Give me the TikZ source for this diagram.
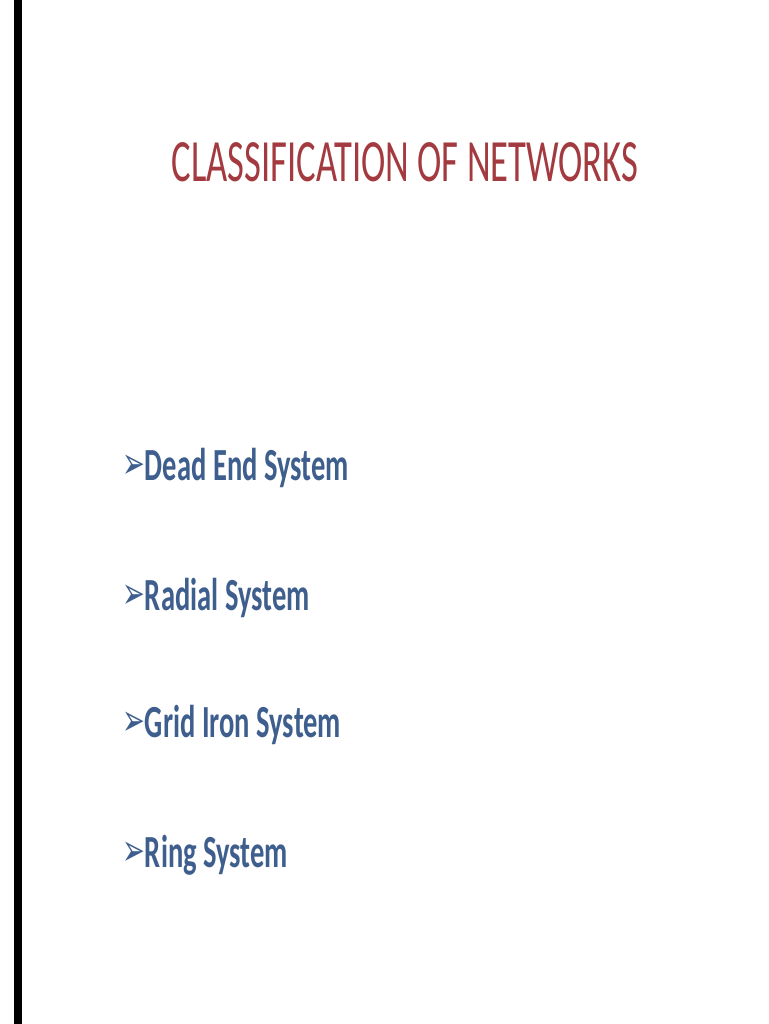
\documentclass[tikz,border=0pt]{standalone}
\usepackage{fontspec}
\setmainfont{Carlito}
\newfontfamily\dejavu{DejaVu Sans}
\definecolor{titlered}{HTML}{A33A3F}
\definecolor{itemblue}{HTML}{3E5F8E}
\newcommand{\arrowbul}{{\dejavu\fontsize{44}{44}\selectfont\raisebox{2pt}{➢}}}
\begin{document}
\begin{tikzpicture}[x=1pt,y=-1pt,
  titlestyle/.style={anchor=center,inner sep=0pt,text=titlered,font=\fontsize{60}{60}\selectfont,xscale=0.61},
  itemstyle/.style={anchor=west,inner sep=0pt,text=itemblue,font=\bfseries\fontsize{46}{46}\selectfont,xscale=0.62}]
\useasboundingbox (0,0) rectangle (768,1024);
\fill[white] (0,0) rectangle (768,1024);
\fill[black] (14,0) rectangle (22,1024);
\node[titlestyle] (title) at (405,162) {CLASSIFICATION OF NETWORKS};
\node[itemstyle] (i1) at (122,468) {\arrowbul Dead End System};
\node[itemstyle] (i2) at (122,598) {\arrowbul Radial System};
\node[itemstyle] (i3) at (122,725) {\arrowbul Grid Iron System};
\node[itemstyle] (i4) at (122,855) {\arrowbul Ring System};
\end{tikzpicture}
\end{document}
